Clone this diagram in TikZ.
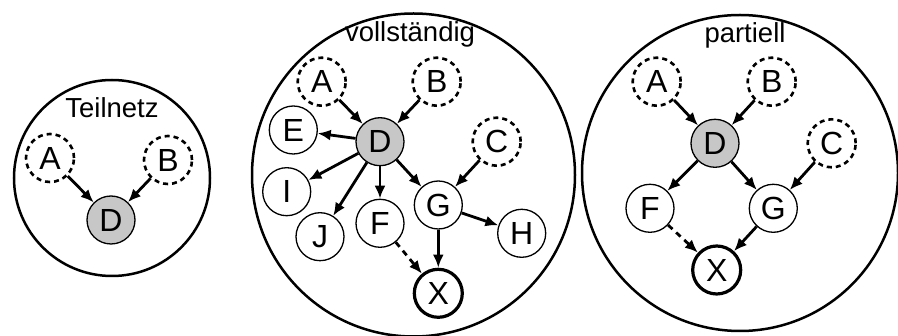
\documentclass[tikz,border=0pt]{standalone}
\usepackage{fontspec}
\setmainfont{Liberation Sans}
\usetikzlibrary{arrows.meta}
\begin{document}
\begin{tikzpicture}[x=1pt,y=-1pt,
  frame/.style={draw,line width=2.5pt},
  nd/.style={circle,draw,line width=1.3pt,minimum size=48pt,inner sep=0pt,font=\fontsize{32}{32}\selectfont},
  hid/.style={nd,line width=2.6pt,dash pattern=on 5pt off 4pt},
  obs/.style={nd,fill=black!22},
  tgt/.style={nd,line width=3.2pt},
  ttl/.style={anchor=base,inner sep=0pt,font=\fontsize{27.5}{27.5}\selectfont},
  arr/.style={line width=2.8pt,-{Latex[length=13pt,width=11pt]}},
  darr/.style={arr,dash pattern=on 6pt off 5pt}]
\useasboundingbox (0,0) rectangle (898,336);
\fill[white] (0,0) rectangle (898,336);
% left
\draw[frame] (112,178) circle (98);
\node[ttl] (t1) at (112,118) {Teilnetz};
\node[hid] (la) at (50,158) {A};
\node[hid] (lb) at (168,160) {B};
\node[obs] (ld) at (111,220) {D};
\draw[arr] (la) -- (ld);
\draw[arr] (lb) -- (ld);
% middle
\draw[frame] (413.5,175) circle (161.5);
\node[ttl] (t2) at (410,42) {vollständig};
\node[hid] (ma) at (321.7,81.7) {A};
\node[hid] (mb) at (436.7,81.7) {B};
\node[obs] (md) at (380,141.7) {D};
\node[nd] (me) at (293.3,130) {E};
\node[hid] (mc) at (496.7,141.7) {C};
\node[nd] (mi) at (286.7,191.7) {I};
\node[nd] (mg) at (438.3,205) {G};
\node[nd] (mf) at (380,223.3) {F};
\node[nd] (mj) at (320,236.7) {J};
\node[nd] (mh) at (521.7,233.3) {H};
\node[tgt] (mx) at (438.3,293.3) {X};
\draw[arr] (ma) -- (md);
\draw[arr] (mb) -- (md);
\draw[arr] (md) -- (me);
\draw[arr] (md) -- (mi);
\draw[arr] (md) -- (mj);
\draw[arr] (md) -- (mf);
\draw[arr] (md) -- (mg);
\draw[arr] (mc) -- (mg);
\draw[arr] (mg) -- (mh);
\draw[arr] (mg) -- (mx);
\draw[darr] (mf) -- (mx);
% right
\draw[frame] (740,173) circle (158);
\node[ttl] (t3) at (745,42.5) {partiell};
\node[hid] (ra) at (656.7,81.7) {A};
\node[hid] (rb) at (771.7,81.7) {B};
\node[obs] (rd) at (715,143.3) {D};
\node[hid] (rc) at (831.7,143.3) {C};
\node[nd] (rf) at (650,208.3) {F};
\node[nd] (rg) at (773.3,208.3) {G};
\node[tgt] (rx) at (716.7,270) {X};
\draw[arr] (ra) -- (rd);
\draw[arr] (rb) -- (rd);
\draw[arr] (rd) -- (rf);
\draw[arr] (rd) -- (rg);
\draw[arr] (rc) -- (rg);
\draw[arr] (rg) -- (rx);
\draw[darr] (rf) -- (rx);
\end{tikzpicture}
\end{document}
